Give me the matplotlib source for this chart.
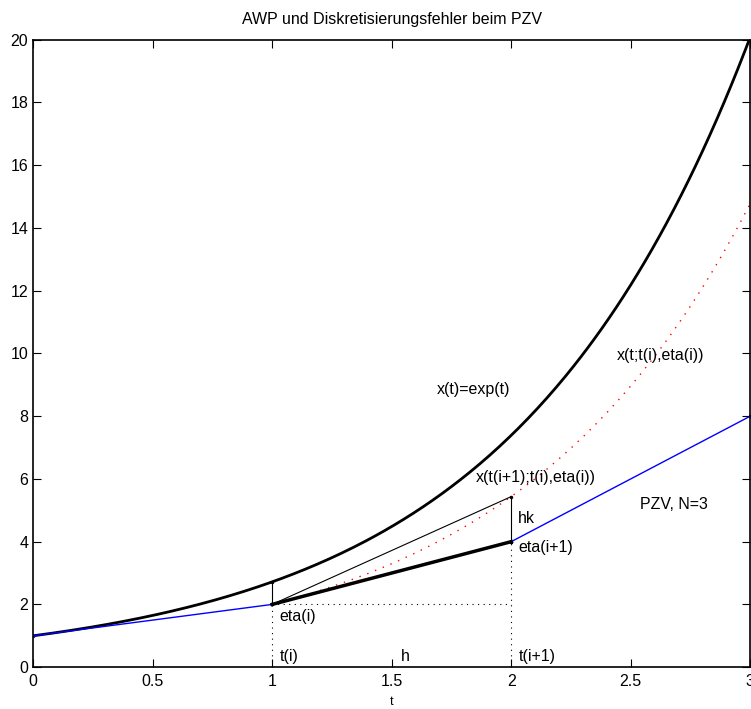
import numpy as np
import matplotlib.pyplot as plt

plt.rcParams['font.family'] = ['Liberation Sans', 'DejaVu Sans']

# Data
t_exact = np.linspace(0, 3, 301)
x_exact = np.exp(t_exact)

t_pzv = [0, 1, 2, 3]
eta = [1, 2, 4, 8]

t_loc = np.linspace(1, 3, 41)
x_loc = eta[1] * np.exp(t_loc - t_pzv[1])

x_next = eta[1] * np.exp(1.0)   # x(t(i+1);t(i),eta(i))
x_ti = np.exp(1.0)              # x(t(i))

fig = plt.figure(figsize=(7.51, 7.09), dpi=100)
ax = fig.add_axes([0.044, 0.059, 0.955, 0.885])

ax.plot(t_exact, x_exact, color='k', lw=2)
ax.plot(t_pzv, eta, color='b', lw=1, marker='.', ms=3)
ax.plot(t_loc, x_loc, color='r', ls=(0, (1, 5)), lw=1)

# Euler step and local error
ax.plot([t_pzv[1], t_pzv[2]], [eta[1], eta[2]], color='k', lw=2.5)
ax.plot([t_pzv[1], t_pzv[2]], [eta[1], x_next], color='k', lw=0.8)
ax.plot([t_pzv[2], t_pzv[2]], [eta[2], x_next], color='k', lw=0.8, marker='.', ms=3)
ax.plot([t_pzv[1], t_pzv[1]], [eta[1], x_ti], color='k', lw=0.8, marker='.', ms=3)

# dotted guides
ax.plot([t_pzv[1], t_pzv[1]], [0, eta[1]], color='k', ls=(0, (1, 4)), lw=0.8)
ax.plot([t_pzv[2], t_pzv[2]], [0, eta[2]], color='k', ls=(0, (1, 4)), lw=0.8)
ax.plot([t_pzv[1], t_pzv[2]], [eta[1], eta[1]], color='k', ls=(0, (1, 4)), lw=0.8)

fs = 11.5
ax.text(1.69, 8.85, 'x(t)=exp(t)', fontsize=fs, va='center')
ax.text(2.44, 9.95, 'x(t;t(i),eta(i))', fontsize=fs, va='center')
ax.text(1.85, 6.05, 'x(t(i+1);t(i),eta(i))', fontsize=fs, va='center')
ax.text(2.03, 4.75, 'hk', fontsize=fs, va='center')
ax.text(2.03, 3.8, 'eta(i+1)', fontsize=fs, va='center')
ax.text(2.54, 5.17, 'PZV, N=3', fontsize=fs, va='center')
ax.text(1.03, 1.6, 'eta(i)', fontsize=fs, va='center')
ax.text(1.03, 0.33, 't(i)', fontsize=fs, va='center')
ax.text(1.54, 0.33, 'h', fontsize=fs, va='center')
ax.text(2.03, 0.33, 't(i+1)', fontsize=fs, va='center')

ax.set_xlim(0, 3)
ax.set_ylim(0, 20)
ax.set_xticks([0, 0.5, 1, 1.5, 2, 2.5, 3])
ax.set_xticklabels(['0', '0.5', '1', '1.5', '2', '2.5', '3'])
ax.set_yticks(range(0, 21, 2))
ax.tick_params(direction='in', top=True, right=True, labelsize=fs, length=6)
ax.tick_params(axis='x', pad=5)
for s in ax.spines.values():
    s.set_linewidth(1.2)
ax.set_xlabel('t', fontsize=9, labelpad=5)
ax.set_title('AWP und Diskretisierungsfehler beim PZV', fontsize=fs, pad=11)

fig.savefig('out.png', dpi=100)
